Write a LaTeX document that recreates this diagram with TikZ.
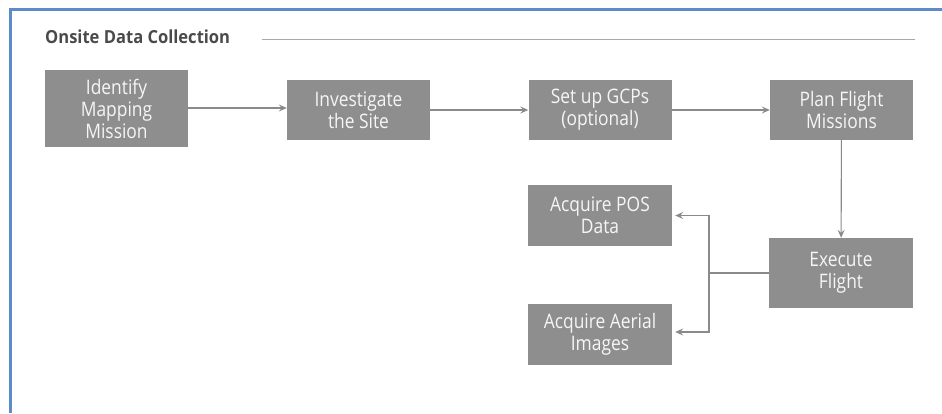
\documentclass[tikz,border=0pt]{standalone}
\usepackage{fontspec}
\setmainfont{Open Sans}[FakeStretch=0.87]
\newfontfamily\titlefont{Open Sans}[FakeStretch=0.92]
\usetikzlibrary{arrows.meta}
\definecolor{boxgray}{HTML}{8E8E8E}
\definecolor{boxtext}{HTML}{F6F6F6}
\definecolor{linegray}{HTML}{8A8A8A}
\definecolor{rulegray}{HTML}{A8A8A8}
\definecolor{frameblue}{HTML}{5B8BC9}
\definecolor{titlegray}{HTML}{4A4A4A}
\tikzset{
  stepbox/.style={rectangle, fill=boxgray, draw=none, text=boxtext, align=center,
    minimum width=143pt, minimum height=60pt, inner sep=0pt,
    font=\fontsize{20}{22}\selectfont},
  arr/.style={draw=linegray, line width=1.1pt,
    -{Stealth[length=8pt,width=7pt,inset=3pt]}},
  plainline/.style={draw=linegray, line width=1.1pt},
}
\begin{document}
\begin{tikzpicture}[x=1pt,y=-1pt]
\useasboundingbox (0,0) rectangle (942,413);
% frame
\draw[frameblue, line width=3pt] (10,413) -- (10,9) -- (942,9);
% title
\node[anchor=base west, inner sep=0pt, text=titlegray,
  font=\titlefont\bfseries\fontsize{18}{20}\selectfont] (title) at (45,43) {Onsite Data Collection};
\draw[rulegray, line width=1pt] (262,39) -- (915,39);
% boxes
\node[stepbox, minimum height=77pt] (id) at (116.5,108.5) {Identify\\Mapping\\Mission};
\node[stepbox] (inv) at (358.5,110) {Investigate\\the Site};
\node[stepbox] (gcp) at (600,110) {Set up GCPs\\(optional)};
\node[stepbox] (plan) at (841.5,110) {Plan Flight\\Missions};
\node[stepbox, minimum width=144pt, minimum height=61pt] (pos) at (600,215.5) {Acquire POS\\Data};
\node[stepbox, minimum width=144pt, minimum height=70pt] (ex) at (841,273) {Execute\\Flight};
\node[stepbox, minimum width=144pt, minimum height=61pt] (aer) at (600,334.5) {Acquire Aerial\\Images};
% connectors
\draw[arr] (id.east |- 0,108) -- (inv.west |- 0,108);
\draw[arr] (inv) -- (gcp);
\draw[arr] (gcp) -- (plan);
\draw[arr] (plan) -- (ex);
\coordinate (br) at (709,273);
\draw[plainline] (ex.west) -- (br);
\draw[arr, shorten >=3pt] (br) |- (pos.east);
\draw[arr, shorten >=3pt] (br) |- ([yshift=2.5pt]aer.east);
\end{tikzpicture}
\end{document}
